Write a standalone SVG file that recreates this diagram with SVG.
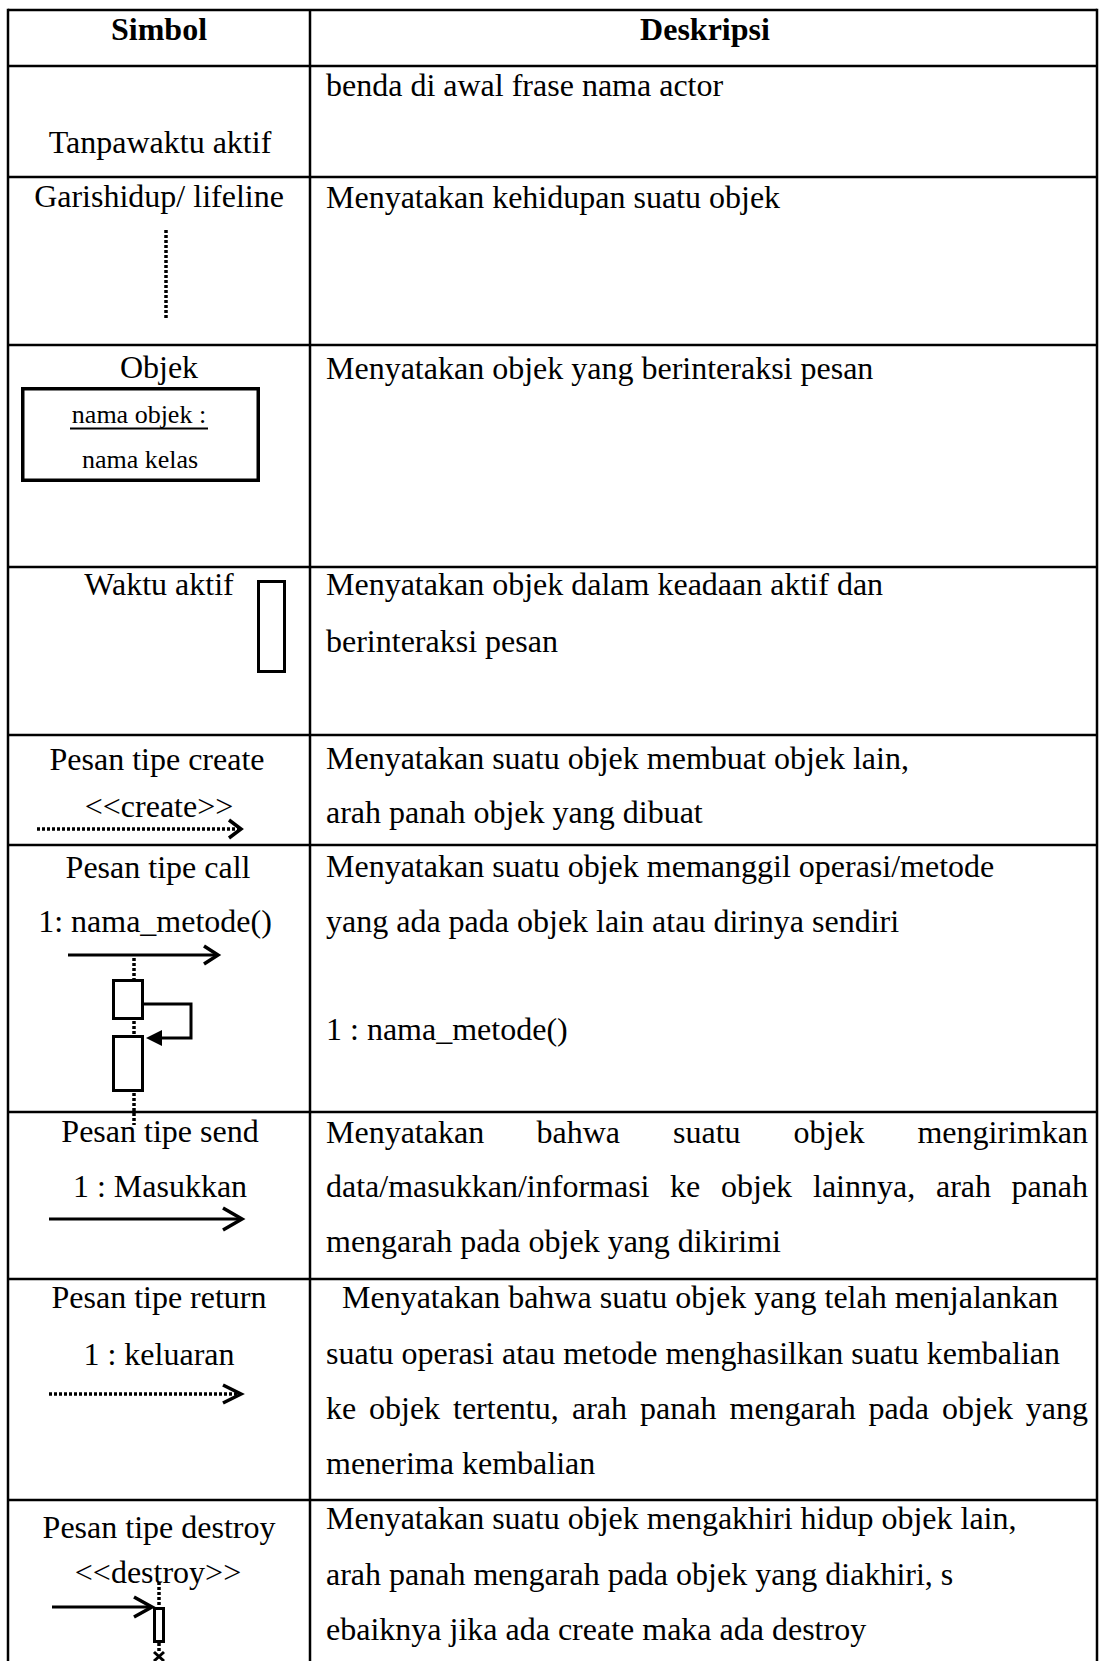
<svg xmlns="http://www.w3.org/2000/svg" width="1100" height="1661" viewBox="0 0 1100 1661">
<style>
.t{font-family:"Liberation Serif","Times New Roman",serif;font-size:32px;fill:#000}
.s{font-size:26px}
.b{font-weight:bold}
.m{text-anchor:middle}
.e{text-anchor:end}
.grid{stroke:#000;stroke-width:2.5;fill:none}
.sym{fill:none;stroke:#000;stroke-width:3;stroke-linejoin:miter}
.head{fill:none;stroke:#000;stroke-width:3.5;stroke-linejoin:miter}
.dot{fill:none;stroke:#000;stroke-width:3.5;stroke-dasharray:3 2}
</style>
<rect width="1100" height="1661" fill="#fff"/>
<g id="grid" class="grid">
<line x1="8" y1="8.75" x2="8" y2="1661"/>
<line x1="1097" y1="8.75" x2="1097" y2="1661"/>
<line x1="310" y1="10" x2="310" y2="1661"/>
<line x1="8" y1="10" x2="1097" y2="10"/>
<line x1="8" y1="66" x2="1097" y2="66"/>
<line x1="8" y1="177" x2="1097" y2="177"/>
<line x1="8" y1="345" x2="1097" y2="345"/>
<line x1="8" y1="567" x2="1097" y2="567"/>
<line x1="8" y1="735" x2="1097" y2="735"/>
<line x1="8" y1="845" x2="1097" y2="845"/>
<line x1="8" y1="1112" x2="1097" y2="1112"/>
<line x1="8" y1="1279" x2="1097" y2="1279"/>
<line x1="8" y1="1500" x2="1097" y2="1500"/>
</g>
<g id="header" class="t b m">
<text x="159" y="40">Simbol</text>
<text x="705" y="40">Deskripsi</text>
</g>
<g id="row-tanpawaktu" class="t">
<text class="m" x="160" y="153">Tanpawaktu aktif</text>
<text x="326" y="96">benda di awal frase nama actor</text>
</g>
<g id="row-lifeline">
<text class="t m" x="159" y="207">Garishidup/ lifeline</text>
<line class="dot" x1="166" y1="230" x2="166" y2="320"/>
<text class="t" x="326" y="208">Menyatakan kehidupan suatu objek</text>
</g>
<g id="row-objek">
<text class="t m" x="159" y="378">Objek</text>
<rect x="22.75" y="388.75" width="235.5" height="91.5" fill="none" stroke="#000" stroke-width="3.5"/>
<text class="t s m" x="139" y="423">nama objek :</text>
<line x1="70" y1="428.5" x2="208" y2="428.5" stroke="#000" stroke-width="2"/>
<text class="t s m" x="140" y="468">nama kelas</text>
<text class="t" x="326" y="379">Menyatakan objek yang berinteraksi pesan</text>
</g>
<g id="row-waktu-aktif">
<text class="t m" x="159" y="595">Waktu aktif</text>
<rect class="sym" x="258.5" y="581.5" width="26" height="90"/>
<text class="t" x="326" y="595">Menyatakan objek dalam keadaan aktif dan</text>
<text class="t" x="326" y="652">berinteraksi pesan</text>
</g>
<g id="row-create" class="t">
<text class="m" x="157" y="770">Pesan tipe create</text>
<text class="m" x="159" y="817">&lt;&lt;create&gt;&gt;</text>
<text x="326" y="769">Menyatakan suatu objek membuat objek lain,</text>
<text x="326" y="823">arah panah objek yang dibuat</text>
</g>
<g id="row-call">
<text class="t m" x="158" y="878">Pesan tipe call</text>
<text class="t m" x="155" y="932">1: nama_metode()</text>
<rect class="sym" x="113.5" y="980.5" width="29" height="38"/>
<rect class="sym" x="113.5" y="1036.5" width="29" height="54"/>
<text class="t" x="326" y="877">Menyatakan suatu objek memanggil operasi/metode</text>
<text class="t" x="326" y="932">yang ada pada objek lain atau dirinya sendiri</text>
<text class="t" x="326" y="1040">1 : nama_metode()</text>
</g>
<g id="row-send" class="t">
<text class="m" x="160" y="1142">Pesan tipe send</text>
<text class="m" x="160" y="1197">1 : Masukkan</text>
<text x="326" y="1143">Menyatakan</text>
<text x="536.5" y="1143">bahwa</text>
<text x="673" y="1143">suatu</text>
<text x="793.5" y="1143">objek</text>
<text class="e" x="1088" y="1143">mengirimkan</text>
<text x="326" y="1197">data/masukkan/informasi</text>
<text x="670" y="1197">ke</text>
<text x="721" y="1197">objek</text>
<text x="813" y="1197">lainnya,</text>
<text x="936" y="1197">arah</text>
<text class="e" x="1088" y="1197">panah</text>
<text x="326" y="1252">mengarah pada objek yang dikirimi</text>
</g>
<g id="row-return" class="t">
<text class="m" x="159" y="1308">Pesan tipe return</text>
<text class="m" x="159" y="1365">1 : keluaran</text>
<text x="342" y="1308">Menyatakan bahwa suatu objek yang telah menjalankan</text>
<text x="326" y="1364">suatu operasi atau metode menghasilkan suatu kembalian</text>
<text x="326" y="1419">ke</text>
<text x="369" y="1419">objek</text>
<text x="453" y="1419">tertentu,</text>
<text x="572" y="1419">arah</text>
<text x="640" y="1419">panah</text>
<text x="729.5" y="1419">mengarah</text>
<text x="868.5" y="1419">pada</text>
<text x="942" y="1419">objek</text>
<text class="e" x="1088" y="1419">yang</text>
<text x="326" y="1474">menerima kembalian</text>
</g>
<g id="row-destroy">
<text class="t m" x="159" y="1538">Pesan tipe destroy</text>
<text class="t m" x="158" y="1583">&lt;&lt;destroy&gt;&gt;</text>
<rect class="sym" x="154.5" y="1608.5" width="9" height="33"/>
<path class="sym" d="M154 1652 L164 1661 M164 1652 L154 1661"/>
<text class="t" x="326" y="1529">Menyatakan suatu objek mengakhiri hidup objek lain,</text>
<text class="t" x="326" y="1585">arah panah mengarah pada objek yang diakhiri, s</text>
<text class="t" x="326" y="1640">ebaiknya jika ada create maka ada destroy</text>
</g>
<g id="connectors">
<line class="dot" x1="37" y1="829" x2="238" y2="829"/>
<polyline class="head" points="229,820 241,829 229,838"/>
<line class="sym" x1="68" y1="955" x2="216" y2="955"/>
<polyline class="head" points="204,946 218,955 204,964"/>
<line class="dot" x1="134" y1="958" x2="134" y2="979"/>
<line class="dot" x1="134" y1="1021" x2="134" y2="1035"/>
<line class="dot" x1="134" y1="1093" x2="134" y2="1125"/>
<polyline class="sym" points="144,1004 191,1004 191,1038 160,1038"/>
<polygon points="146,1038 162,1030 162,1046" fill="#000"/>
<line class="sym" x1="49" y1="1219" x2="240" y2="1219"/>
<polyline class="head" points="223,1208 242,1219 223,1230"/>
<line class="dot" x1="49" y1="1394" x2="238" y2="1394"/>
<polyline class="head" points="223,1385 241,1394 223,1403"/>
<line class="dot" x1="159" y1="1582" x2="159" y2="1607"/>
<line class="sym" x1="52" y1="1607" x2="151" y2="1607"/>
<polyline class="head" points="134,1597 152,1607 134,1617"/>
<line class="dot" x1="159" y1="1643" x2="159" y2="1651"/>
</g>
</svg>
